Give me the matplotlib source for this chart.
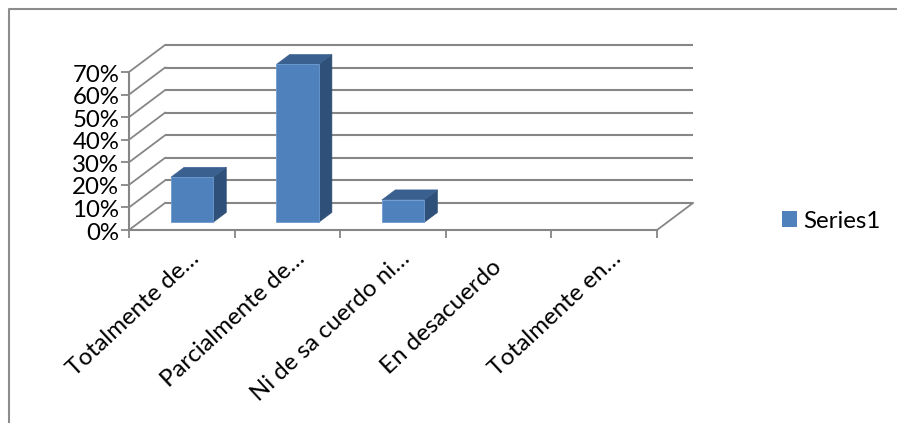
import matplotlib
matplotlib.use('Agg')
import matplotlib.pyplot as plt
from matplotlib.lines import Line2D
from matplotlib.patches import Patch, Polygon
from matplotlib.ticker import PercentFormatter
from matplotlib.transforms import ScaledTranslation

categories = ['Totalmente de…', 'Parcialmente de…', 'Ni de sa cuerdo ni…', 'En desacuerdo', 'Totalmente en…']
values = [20, 70, 10, 0, 0]
y_ticks = [0, 10, 20, 30, 40, 50, 60, 70]
series_name = 'Series1'

W, H = 897, 423
GRID = '#868686'
FRONT = '#4F81BD'
SIDE = '#2F5078'
TOP = '#3A6090'
FONT_SIZE = 17.3

# wall depth in data units (36px right, 27px up)
DEPTH_X = 36 / 105.6
DEPTH_Y = 27 / 158 * 70


def project(x, v, d):
    """ Oblique projection of category pos, value and depth into the front plane """
    return x + d * DEPTH_X, v + d * DEPTH_Y


def draw_bar(ax, center, value, width=0.4, d0=0.28, d1=0.65):
    x0, x1 = center - width / 2, center + width / 2
    front = [project(x0, 0, d0), project(x1, 0, d0), project(x1, value, d0), project(x0, value, d0)]
    side = [project(x1, 0, d0), project(x1, 0, d1), project(x1, value, d1), project(x1, value, d0)]
    top = [project(x0, value, d0), project(x1, value, d0), project(x1, value, d1), project(x0, value, d1)]
    ax.add_patch(Polygon(side, facecolor=SIDE, edgecolor=SIDE, lw=0.4, zorder=3, clip_on=False))
    ax.add_patch(Polygon(top, facecolor=TOP, edgecolor=TOP, lw=0.4, zorder=3, clip_on=False))
    ax.add_patch(Polygon(front, facecolor=FRONT, edgecolor='#6C9AD0', lw=0.6, zorder=4, clip_on=False))


plt.rcParams['font.family'] = ['Lato', 'DejaVu Sans']
fig = plt.figure(figsize=(W / 100, H / 100), dpi=100)
ax = fig.add_axes([129 / W, 1 - 230 / H, 528 / W, 158 / H])
ax.set_xlim(0, len(categories))
ax.set_ylim(0, 70)

# walls and floor
for v in y_ticks:
    back_l = project(0, v, 1)
    back_r = project(len(categories), v, 1)
    ax.plot([back_l[0], back_r[0]], [back_l[1], back_r[1]], color=GRID, lw=1.5, zorder=1, clip_on=False,
            solid_capstyle='butt')
    ax.plot([0, back_l[0]], [v, back_l[1]], color=GRID, lw=1.3, zorder=1, clip_on=False)
end = project(len(categories), 0, 1)
ax.plot([len(categories), end[0]], [0, end[1]], color=GRID, lw=1.3, zorder=1, clip_on=False)

for i, val in enumerate(values):
    if val > 0:
        draw_bar(ax, i + 0.5, val)

for side in ['top', 'right']:
    ax.spines[side].set_visible(False)
for side in ['left', 'bottom']:
    ax.spines[side].set_color(GRID)
    ax.spines[side].set_linewidth(1.5)
ax.patch.set_alpha(0)

ax.set_yticks(y_ticks)
ax.yaxis.set_major_formatter(PercentFormatter(decimals=0))
ax.tick_params(axis='y', length=6, width=1.3, color=GRID, labelsize=FONT_SIZE, pad=1, labelcolor='black')
for lab in ax.get_yticklabels():
    lab.set_transform(lab.get_transform() + ScaledTranslation(0, -1 / 100, fig.dpi_scale_trans))

# tick marks between categories, labels at the centres
ax.set_xticks(range(len(categories) + 1), minor=True)
ax.set_xticks([i + 0.5 for i in range(len(categories))])
ax.set_xticklabels(categories, rotation=43, ha='right', va='center', rotation_mode='anchor')
ax.tick_params(axis='x', which='minor', length=6, width=1.3, color=GRID)
ax.tick_params(axis='x', which='major', length=0, labelsize=FONT_SIZE, pad=0)
# pixel nudges, En desacuerdo sits lower since it isn't truncated
nudges = [(14, -25), (14, -25), (14, -25), (0, -34), (14, -25)]
for lab, (dx, dy) in zip(ax.get_xticklabels(), nudges):
    lab.set_transform(lab.get_transform() + ScaledTranslation(dx / 100, dy / 100, fig.dpi_scale_trans))

# chart frame, only top and left visible in the crop
fig.add_artist(Line2D([9 / W, 9 / W, 1], [0, 1 - 9 / H, 1 - 9 / H], color='#8C8C8C', lw=1.5,
                      transform=fig.transFigure))

fig.legend(handles=[Patch(facecolor=FRONT, label=series_name)], loc='center left',
           bbox_to_anchor=(782 / W, 1 - 221 / H), frameon=False, fontsize=FONT_SIZE,
           handlelength=0.62, handleheight=0.62, handletextpad=0.25, borderpad=0, borderaxespad=0)

fig.savefig('out.png', dpi=100)
